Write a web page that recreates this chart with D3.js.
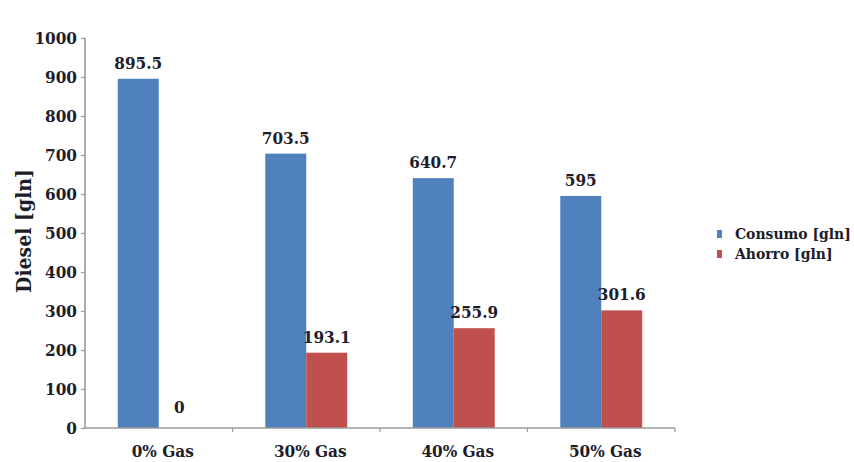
<!DOCTYPE html>
<html>
<head>
<meta charset="utf-8">
<script src="https://cdn.jsdelivr.net/npm/d3@7"></script>
<style>
  html, body { margin: 0; padding: 0; background: #fff; }
</style>
</head>
<body>
<svg id="chart" width="854" height="462"></svg>
<script>
// Diesel consumption vs. savings for each gas substitution level
const categories = ["0% Gas", "30% Gas", "40% Gas", "50% Gas"];
const seriesNames = ["Consumo [gln]", "Ahorro [gln]"];
const consumo = [895.5, 703.5, 640.7, 595];
const ahorro = [0, 193.1, 255.9, 301.6];
const yTicks = [0, 100, 200, 300, 400, 500, 600, 700, 800, 900, 1000];
const colors = ["#4F81BD", "#C0504D"];

const FONT = "'DejaVu Serif Condensed', 'DejaVu Serif', serif";
const INK = "#1c1c2a";

const seriesValues = [consumo, ahorro];
const rows = categories.map((c, i) => ({
  category: c,
  values: seriesNames.map((s, k) => ({ series: s, value: seriesValues[k][i], color: colors[k] }))
}));

const svg = d3.select("#chart");
const plot = { left: 85, right: 675, top: 38, bottom: 428 };

function styleText(sel, size) {
  return sel.style("font-family", FONT).style("font-weight", "bold")
    .style("font-stretch", "condensed")
    .style("font-size", size + "px").style("fill", INK);
}

const x0 = d3.scaleBand().domain(categories).range([plot.left, plot.right]).padding(0);
const x1 = d3.scaleBand().domain(seriesNames).range([0, x0.bandwidth()])
  .paddingInner(0).paddingOuter(0.8);
const y = d3.scaleLinear().domain([0, 1000]).range([plot.bottom, plot.top]);

// Bars
const groups = svg.append("g").selectAll("g").data(rows).join("g")
  .attr("transform", d => `translate(${x0(d.category)},0)`);

groups.selectAll("rect").data(d => d.values).join("rect")
  .attr("x", d => x1(d.series))
  .attr("y", d => y(d.value))
  .attr("width", x1.bandwidth())
  .attr("height", d => y(0) - y(d.value))
  .attr("fill", d => d.color);

// Value labels
groups.selectAll("text.val").data(d => d.values).join("text")
  .attr("class", "val")
  .attr("x", d => x1(d.series) + x1.bandwidth() / 2)
  .attr("y", d => y(d.value) - (d.value === 0 ? 15 : 10))
  .attr("text-anchor", "middle")
  .call(styleText, 17)
  .text(d => d3.format("")(d.value));

// Y axis
const yAxis = svg.append("g")
  .attr("transform", `translate(${plot.left},0)`)
  .call(d3.axisLeft(y).tickValues(yTicks).tickSize(4).tickPadding(4).tickFormat(d3.format("d")));
yAxis.select(".domain").attr("stroke", "#9a9a9a").attr("stroke-width", 1.6)
  .attr("d", `M0,${plot.bottom}V${plot.top}`);
yAxis.selectAll(".tick line").attr("stroke", "#9a9a9a").attr("stroke-width", 1.2);
yAxis.selectAll(".tick text").call(styleText, 17).attr("dy", "0.35em");

// X axis: boundaries between categories carry the tick marks
const xAxisG = svg.append("g").attr("transform", `translate(0,${plot.bottom})`);
xAxisG.append("line")
  .attr("x1", plot.left).attr("x2", plot.right)
  .attr("stroke", "#9a9a9a").attr("stroke-width", 1.6);
xAxisG.selectAll("line.tk").data(categories).join("line")
  .attr("class", "tk")
  .attr("x1", d => x0(d) + x0.step())
  .attr("x2", d => x0(d) + x0.step())
  .attr("y1", 0).attr("y2", 4)
  .attr("stroke", "#9a9a9a").attr("stroke-width", 1.2);
xAxisG.selectAll("text").data(categories).join("text")
  .attr("x", d => x0(d) + x0.bandwidth() / 2 + 4)
  .attr("y", 29)
  .attr("text-anchor", "middle")
  .call(styleText, 17)
  .text(d => d);

// Y axis title
svg.append("text")
  .attr("transform", `translate(31,231) rotate(-90)`)
  .attr("text-anchor", "middle")
  .call(styleText, 21)
  .text("Diesel [gln]");

// Legend
const legend = svg.append("g").attr("transform", "translate(717,230)");
const items = legend.selectAll("g").data(seriesNames).join("g")
  .attr("transform", (d, i) => `translate(0,${i * 20})`);
items.append("rect")
  .attr("width", 5).attr("height", 8)
  .attr("fill", (d, i) => colors[i]);
items.append("text")
  .attr("x", 18).attr("y", 9)
  .call(styleText, 15.5)
  .text(d => d);
</script>
</body>
</html>
